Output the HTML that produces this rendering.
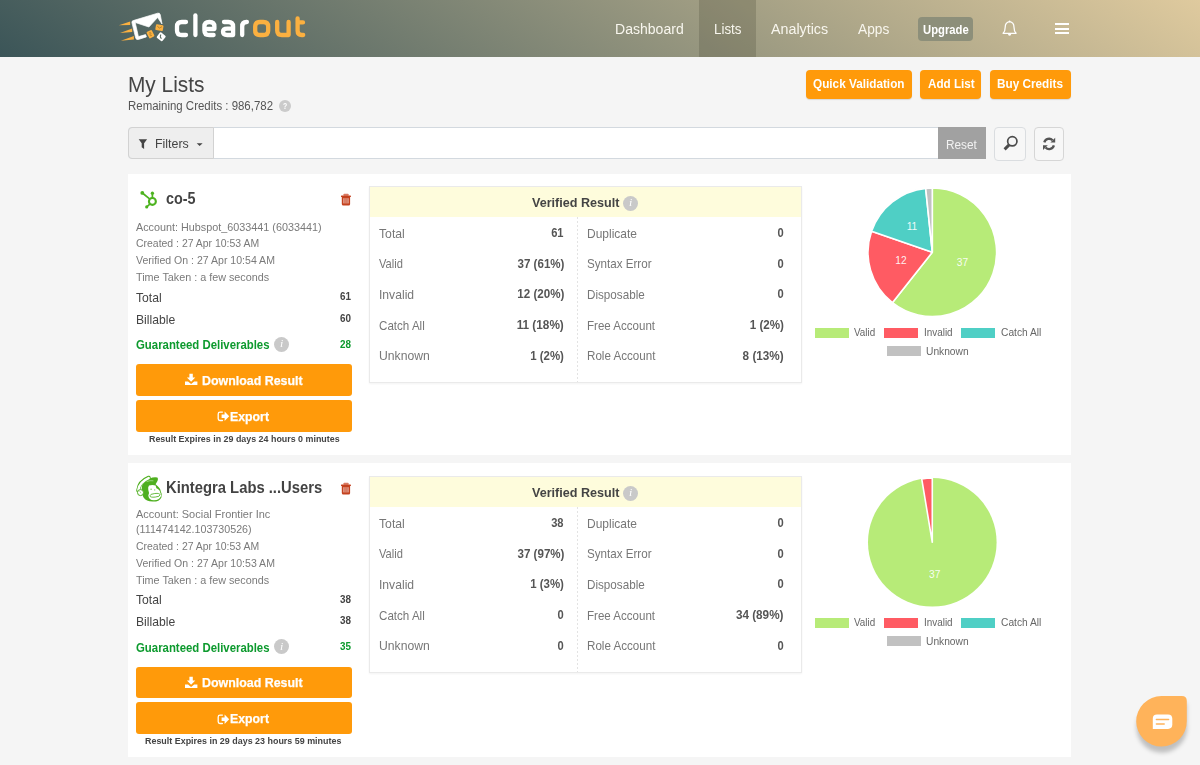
<!DOCTYPE html>
<html><head><meta charset="utf-8"><title>My Lists</title>
<style>
html,body{margin:0;padding:0;}
body{width:1200px;height:765px;overflow:hidden;background:#f5f5f5;position:relative;font-family:"Liberation Sans",sans-serif;}
.t{position:absolute;white-space:nowrap;line-height:1;}
.b{position:absolute;box-sizing:border-box;}
</style></head><body>
<div class="b" style="left:0.00px;top:0.00px;width:1200.00px;height:56.60px;background:linear-gradient(33deg,#3b5558 0%,#dfca9e 100%);"></div>
<div class="b" style="left:699.30px;top:0.00px;width:57.00px;height:56.60px;background:rgba(60,60,40,.22);"></div>
<svg class="b" style="left:112px;top:6px" width="200" height="44" viewBox="112 6 200 44">
<g fill="#fbb040">
<polygon points="118.9,25.2 130.2,21.4 130.2,25"/>
<polygon points="120,32.9 132.2,28.6 132.2,32"/>
<polygon points="120.9,40.7 133.9,36.1 133.9,39.5"/>
</g>
<path d="M133.2,20.6 L157.6,13.2 Q159.8,12.6 160.3,14.8 L162,24 L157.6,17.5 L148.9,27 L135.2,22.5 L138.4,36.6 L145.6,34.6 L146.4,36.9 L138.3,39.5 Q136.2,40 135.7,38 L131.9,22.6 Q131.5,21.1 133.2,20.6 Z" fill="#fff" stroke="#fff" stroke-width=".7" stroke-linejoin="round"/>
<g transform="rotate(-27 150.5 34.2)"><rect x="147.6" y="30.6" width="5.8" height="7.2" rx="1" fill="#fbb040"/><path d="M149.6,32.6h1.6v1.5h-1.4v1.6h1.6" stroke="#b8862c" stroke-width=".8" fill="none"/></g>
<g transform="rotate(10 159.4 27.6)"><rect x="155.6" y="24.6" width="7.6" height="6" rx="1" fill="#fbb040"/><path d="M157,26.2l2.4,2 2.4,-2" stroke="#b8862c" stroke-width=".9" fill="none"/></g>
<g transform="rotate(38 161.2 36.8)"><rect x="157.6" y="33.4" width="7.2" height="6.8" rx="1.1" fill="#fff"/><path d="M159.6,35.2q0.2,2.6 3,3" stroke="#5b6b60" stroke-width="1" fill="none"/></g>
<g fill="none" stroke-width="4.3" stroke-linecap="round" stroke-linejoin="round">
<g stroke="#fff">
<path d="M186,22 H181.8 Q177,22 177,26.6 V30.4 Q177,35 181.8,35 H186"/>
<path d="M195.4,15.4 V35"/>
<path d="M204.5,29 H214.4 V26.6 Q214.4,22 209.6,22 H209.2 Q204.4,22 204.4,26.6 V30.4 Q204.4,35 209.2,35 H213.6"/>
<path d="M224,22 H228.3 Q233.1,22 233.1,26.6 V35 H227.2 Q223,35 223,31.8 Q223,28.6 227.2,28.6 H233"/>
<path d="M242.2,35 V26.6 Q242.2,22 246.4,22 H246.9"/>
</g>
<g stroke="#fbb040">
<path d="M260,22 H263.4 Q268.2,22 268.2,26.6 V30.4 Q268.2,35 263.4,35 H260 Q255.2,35 255.2,30.4 V26.6 Q255.2,22 260,22 Z"/>
<path d="M277.2,22 V30.4 Q277.2,35 282,35 H288.6 V22"/>
<path d="M297.6,18.4 V30.8 Q297.6,35 301.8,35 H303.2 M297.6,22.4 H303"/>
</g></g>
</svg>
<div class="t" style="left:614.50px;transform-origin:0 0;top:21px;font-size:15.2px;font-weight:400;color:#f8f6ee;transform:scaleX(0.9252);">Dashboard</div>
<div class="t" style="left:713.80px;transform-origin:0 0;top:21px;font-size:15.2px;font-weight:400;color:#f8f6ee;transform:scaleX(0.8799);">Lists</div>
<div class="t" style="left:770.80px;transform-origin:0 0;top:21px;font-size:15.2px;font-weight:400;color:#f8f6ee;transform:scaleX(0.9404);">Analytics</div>
<div class="t" style="left:857.50px;transform-origin:0 0;top:21px;font-size:15.2px;font-weight:400;color:#f8f6ee;transform:scaleX(0.9034);">Apps</div>
<div class="b" style="left:918.00px;top:17.00px;width:55.00px;height:24.30px;background:#8d8f7a;border-radius:4px;"></div>
<div class="t" style="left:922.60px;transform-origin:0 0;top:23px;font-size:13.2px;font-weight:700;color:#fff;transform:scaleX(0.8535);">Upgrade</div>
<svg class="b" style="left:1000px;top:18px" width="20" height="20" viewBox="1000 18 20 20">
<path d="M1003.1,33.3 H1016.1 Q1014,31.2 1014,27.2 Q1014,22.4 1009.6,21.7 Q1005.2,22.4 1005.2,27.2 Q1005.2,31.2 1003.1,33.3 Z" fill="none" stroke="#fff" stroke-width="1.25" stroke-linejoin="round"/>
<circle cx="1009.6" cy="21.3" r=".9" fill="#fff"/>
<path d="M1008,34.1 a1.6,1.7 0 0 0 3.2,0 z" fill="#fff"/></svg>
<div class="b" style="left:1055.30px;top:23.00px;width:13.40px;height:2.10px;background:#fff;"></div>
<div class="b" style="left:1055.30px;top:27.50px;width:13.40px;height:2.10px;background:#fff;"></div>
<div class="b" style="left:1055.30px;top:32.00px;width:13.40px;height:2.10px;background:#fff;"></div>
<div class="t" style="left:128.00px;transform-origin:0 0;top:74px;font-size:22.2px;font-weight:400;color:#454545;transform:scaleX(0.9397);">My Lists</div>
<div class="t" style="left:127.80px;transform-origin:0 0;top:100px;font-size:12.0px;font-weight:400;color:#555;transform:scaleX(0.9534);">Remaining Credits : 986,782</div>
<div class="b" style="left:279.20px;top:99.70px;width:12.10px;height:12.10px;background:#cbcbcb;border-radius:50%;"></div>
<div class="t" style="left:283.20px;transform-origin:0 0;top:102px;font-size:9px;font-weight:700;color:#fff;transform:scaleX(0.7640);">?</div>
<div class="b" style="left:805.80px;top:70.00px;width:106.00px;height:29.30px;background:#ff9a0a;border-radius:4px;box-shadow:0 1px 1px rgba(0,0,0,.12);"></div>
<div class="t" style="left:813.00px;transform-origin:0 0;top:78px;font-size:12.5px;font-weight:700;color:#fff;transform:scaleX(0.9409);">Quick Validation</div>
<div class="b" style="left:920.30px;top:70.00px;width:61.20px;height:29.30px;background:#ff9a0a;border-radius:4px;box-shadow:0 1px 1px rgba(0,0,0,.12);"></div>
<div class="t" style="left:927.80px;transform-origin:0 0;top:78px;font-size:12.5px;font-weight:700;color:#fff;transform:scaleX(0.9341);">Add List</div>
<div class="b" style="left:990.00px;top:70.00px;width:81.00px;height:29.30px;background:#ff9a0a;border-radius:4px;box-shadow:0 1px 1px rgba(0,0,0,.12);"></div>
<div class="t" style="left:997.30px;transform-origin:0 0;top:78px;font-size:12.5px;font-weight:700;color:#fff;transform:scaleX(0.9408);">Buy Credits</div>
<div class="b" style="left:127.50px;top:126.80px;width:858.50px;height:31.80px;background:#fff;border:1px solid #d3d9df;border-radius:4px;"></div>
<div class="b" style="left:127.50px;top:126.80px;width:86.50px;height:31.80px;background:#eee;border:1px solid #d2d2d2;border-radius:4px 0 0 4px;"></div>
<svg class="b" style="left:138px;top:138px" width="11" height="12" viewBox="138 138 11 12"><path d="M138.7,139.3 H147.1 L144.1,143.2 V148.9 L141.7,147.2 V143.2 Z" fill="#444"/></svg>
<div class="t" style="left:155.00px;transform-origin:0 0;top:137px;font-size:13.6px;font-weight:400;color:#444;transform:scaleX(0.9130);">Filters</div>
<svg class="b" style="left:196px;top:142px" width="8" height="5" viewBox="196 142 8 5"><path d="M196.7,143.2 H202.6 L199.65,146 Z" fill="#444"/></svg>
<div class="b" style="left:937.50px;top:126.80px;width:48.40px;height:32.00px;background:#a1a1a1;"></div>
<div class="t" style="left:946.20px;transform-origin:0 0;top:138px;font-size:13.6px;font-weight:400;color:#f2f2f2;transform:scaleX(0.8669);">Reset</div>
<div class="b" style="left:994.00px;top:126.50px;width:31.60px;height:34.00px;background:#f7f7f7;border:1px solid #dadde0;border-radius:4px;"></div>
<div class="b" style="left:1034.00px;top:126.50px;width:30.00px;height:34.00px;background:#f7f7f7;border:1px solid #d6d6d6;border-radius:4px;"></div>
<svg class="b" style="left:1002px;top:134px" width="18" height="18" viewBox="1002 134 18 18">
<circle cx="1012.3" cy="141.3" r="4.65" fill="none" stroke="#4c4c4c" stroke-width="1.7"/>
<path d="M1009.1,144.9 L1004.6,149.4" stroke="#4c4c4c" stroke-width="2.9" stroke-linecap="butt"/></svg>
<svg class="b" style="left:1041px;top:136px" width="16" height="16" viewBox="1041 136 16 16">
<g fill="none" stroke="#555" stroke-width="2.3">
<path d="M1044.3,142.4 A4.9,4.9 0 0 1 1052.6,140.3"/>
<path d="M1053.9,145.4 A4.9,4.9 0 0 1 1045.6,147.5"/></g>
<path d="M1055.2,137.8 V142.6 H1050.4 Z" fill="#555"/>
<path d="M1043,150 V145.2 H1047.8 Z" fill="#555"/></svg>
<div class="b" style="left:127.50px;top:173.50px;width:943.50px;height:281.00px;background:#fff;"></div>
<svg class="b" style="left:139px;top:189px" width="20" height="21" viewBox="139 189 20 21"><g fill="none" stroke="#4db31f" stroke-linecap="round"><circle cx="152.4" cy="201.4" r="3.45" stroke-width="2.1"/><path d="M142.4,193 L149.6,198.8 M152.4,197.6 V193.6 M149.8,204.2 L146.8,206.8" stroke-width="1.7"/></g><g fill="#4db31f"><circle cx="142.3" cy="192.9" r="1.9"/><circle cx="152.4" cy="193.2" r="1.65"/><circle cx="146.7" cy="206.9" r="1.55"/></g></svg>
<div class="t" style="left:165.80px;transform-origin:0 0;top:190px;font-size:16.4px;font-weight:700;color:#434343;transform:scaleX(0.8778);">co-5</div>
<svg class="b" style="left:340px;top:193.0px" width="12" height="13" viewBox="340 193.5 12 13"><path d="M344.2,194.2 H347.9 Q348.5,194.2 348.5,194.8 V196.3 H343.6 V194.8 Q343.6,194.2 344.2,194.2 Z" fill="#d97a63"/><rect x="341" y="196.1" width="9.9" height="1.5" rx=".4" fill="#c4421f"/><path d="M341.8,197.3 H350.1 V204.4 Q350.1,205.9 348.6,205.9 H343.3 Q341.8,205.9 341.8,204.4 Z" fill="#c4421f"/><rect x="343.1" y="198.7" width="5.7" height="5.2" fill="#e29c8a"/><path d="M345.0,198.7 V203.9 M346.95,198.7 V203.9" stroke="#c95538" stroke-width=".8"/></svg>
<div class="t" style="left:136.00px;transform-origin:0 0;top:221px;font-size:11.6px;font-weight:400;color:#7a7a7a;transform:scaleX(0.9318);">Account: Hubspot_6033441 (6033441)</div>
<div class="t" style="left:136.00px;transform-origin:0 0;top:237px;font-size:11.6px;font-weight:400;color:#7a7a7a;transform:scaleX(0.9012);">Created : 27 Apr 10:53 AM</div>
<div class="t" style="left:136.00px;transform-origin:0 0;top:254px;font-size:11.6px;font-weight:400;color:#7a7a7a;transform:scaleX(0.9095);">Verified On : 27 Apr 10:54 AM</div>
<div class="t" style="left:136.00px;transform-origin:0 0;top:271px;font-size:11.6px;font-weight:400;color:#7a7a7a;transform:scaleX(0.9306);">Time Taken : a few seconds</div>
<div class="t" style="left:136.00px;transform-origin:0 0;top:291px;font-size:13.2px;font-weight:400;color:#444;transform:scaleX(0.9217);">Total</div>
<div class="t" style="right:849.20px;transform-origin:100% 0;top:291px;font-size:11.8px;font-weight:700;color:#444;transform:scaleX(0.8381);">61</div>
<div class="t" style="left:136.00px;transform-origin:0 0;top:313px;font-size:13.2px;font-weight:400;color:#444;transform:scaleX(0.9211);">Billable</div>
<div class="t" style="right:849.20px;transform-origin:100% 0;top:313px;font-size:11.8px;font-weight:700;color:#444;transform:scaleX(0.8381);">60</div>
<div class="t" style="left:136.00px;transform-origin:0 0;top:339px;font-size:12.9px;font-weight:700;color:#0d9a2e;transform:scaleX(0.8831);">Guaranteed Deliverables</div>
<div class="b" style="left:273.80px;top:336.70px;width:15.00px;height:15.00px;background:#c9c9c9;border-radius:50%;"></div>
<div class="t" style="left:280.10px;transform-origin:0 0;top:339px;font-size:10.5px;font-weight:400;color:#fff;transform:scaleX(1.1145);font-style:italic;font-family:'Liberation Serif',serif;">i</div>
<div class="t" style="right:849.20px;transform-origin:100% 0;top:339px;font-size:11.8px;font-weight:700;color:#0d9a2e;transform:scaleX(0.8381);">28</div>
<div class="b" style="left:136.00px;top:364.00px;width:215.90px;height:31.70px;background:#ff9a0a;border-radius:3px;"></div>
<svg class="b" style="left:184px;top:372px" width="15" height="15" viewBox="184 372 15 15"><path d="M189.4,373.8 H192.8 V377.6 H195.3 L191.1,381.8 L186.9,377.6 H189.4 Z M185,381.4 H188 L191.1,384 L194.2,381.4 H197.4 V384.9 H185 Z" fill="#fff"/></svg>
<div class="t" style="left:201.70px;transform-origin:0 0;top:374px;font-size:13.3px;font-weight:700;color:#fff;transform:scaleX(0.9325);-webkit-text-stroke:.25px #fff;">Download Result</div>
<div class="b" style="left:136.00px;top:399.90px;width:215.90px;height:31.70px;background:#ff9a0a;border-radius:3px;"></div>
<svg class="b" style="left:216px;top:409px" width="15" height="15" viewBox="216 409 15 15"><path d="M222.4,412.1 H220 Q218.2,412.1 218.2,413.9 V418.7 Q218.2,420.5 220,420.5 H222.4" fill="none" stroke="#fff" stroke-width="1.3" stroke-linecap="round"/><path d="M221.6,414.6 H224.6 V411.6 L229.2,416.3 L224.6,421 V418 H221.6 Z" fill="#fff"/></svg>
<div class="t" style="left:230.40px;transform-origin:0 0;top:410px;font-size:13.3px;font-weight:700;color:#fff;transform:scaleX(0.9259);-webkit-text-stroke:.25px #fff;">Export</div>
<div class="t" style="left:148.50px;transform-origin:0 0;top:434px;font-size:9.6px;font-weight:700;color:#444;transform:scaleX(0.9260);">Result Expires in 29 days 24 hours 0 minutes</div>
<div class="b" style="left:369.40px;top:186.40px;width:432.20px;height:196.40px;background:#fff;border:1px solid #eaeaea;box-shadow:0 1px 2px rgba(0,0,0,.05);"></div>
<div class="b" style="left:370.40px;top:187.40px;width:430.20px;height:29.60px;background:#fefcdc;"></div>
<div class="b" style="left:577.20px;top:217.00px;width:1.00px;height:164.80px;background:repeating-linear-gradient(to bottom,#e3e3e3 0,#e3e3e3 2px,transparent 2px,transparent 4px);"></div>
<div class="t" style="left:532.20px;transform-origin:0 0;top:196px;font-size:13.2px;font-weight:700;color:#444;transform:scaleX(0.9542);">Verified Result</div>
<div class="b" style="left:623.00px;top:195.60px;width:15.00px;height:15.00px;background:#c9c9c9;border-radius:50%;"></div>
<div class="t" style="left:629.30px;transform-origin:0 0;top:198px;font-size:10.5px;font-weight:400;color:#fff;transform:scaleX(1.1145);font-style:italic;font-family:'Liberation Serif',serif;">i</div>
<div class="t" style="left:378.60px;transform-origin:0 0;top:228px;font-size:12.6px;font-weight:400;color:#777;transform:scaleX(0.9694);">Total</div>
<div class="t" style="right:636.00px;transform-origin:100% 0;top:227px;font-size:12.2px;font-weight:700;color:#555;transform:scaleX(0.9138);">61</div>
<div class="t" style="left:378.60px;transform-origin:0 0;top:258px;font-size:12.6px;font-weight:400;color:#777;transform:scaleX(0.8825);">Valid</div>
<div class="t" style="right:636.00px;transform-origin:100% 0;top:258px;font-size:12.2px;font-weight:700;color:#555;transform:scaleX(0.9494);">37 (61%)</div>
<div class="t" style="left:378.60px;transform-origin:0 0;top:289px;font-size:12.6px;font-weight:400;color:#777;transform:scaleX(0.9637);">Invalid</div>
<div class="t" style="right:636.00px;transform-origin:100% 0;top:288px;font-size:12.2px;font-weight:700;color:#555;transform:scaleX(0.9535);">12 (20%)</div>
<div class="t" style="left:378.60px;transform-origin:0 0;top:320px;font-size:12.6px;font-weight:400;color:#777;transform:scaleX(0.9211);">Catch All</div>
<div class="t" style="right:636.00px;transform-origin:100% 0;top:319px;font-size:12.2px;font-weight:700;color:#555;transform:scaleX(0.9666);">11 (18%)</div>
<div class="t" style="left:378.60px;transform-origin:0 0;top:350px;font-size:12.6px;font-weight:400;color:#777;transform:scaleX(0.9671);">Unknown</div>
<div class="t" style="right:636.00px;transform-origin:100% 0;top:350px;font-size:12.2px;font-weight:700;color:#555;transform:scaleX(0.9406);">1 (2%)</div>
<div class="t" style="left:587.00px;transform-origin:0 0;top:228px;font-size:12.6px;font-weight:400;color:#777;transform:scaleX(0.9519);">Duplicate</div>
<div class="t" style="right:416.40px;transform-origin:100% 0;top:227px;font-size:12.2px;font-weight:700;color:#555;transform:scaleX(0.9138);">0</div>
<div class="t" style="left:587.00px;transform-origin:0 0;top:258px;font-size:12.6px;font-weight:400;color:#777;transform:scaleX(0.9226);">Syntax Error</div>
<div class="t" style="right:416.40px;transform-origin:100% 0;top:258px;font-size:12.2px;font-weight:700;color:#555;transform:scaleX(0.9138);">0</div>
<div class="t" style="left:587.00px;transform-origin:0 0;top:289px;font-size:12.6px;font-weight:400;color:#777;transform:scaleX(0.9272);">Disposable</div>
<div class="t" style="right:416.40px;transform-origin:100% 0;top:288px;font-size:12.2px;font-weight:700;color:#555;transform:scaleX(0.9138);">0</div>
<div class="t" style="left:587.00px;transform-origin:0 0;top:320px;font-size:12.6px;font-weight:400;color:#777;transform:scaleX(0.9173);">Free Account</div>
<div class="t" style="right:416.40px;transform-origin:100% 0;top:319px;font-size:12.2px;font-weight:700;color:#555;transform:scaleX(0.9518);">1 (2%)</div>
<div class="t" style="left:587.00px;transform-origin:0 0;top:350px;font-size:12.6px;font-weight:400;color:#777;transform:scaleX(0.9226);">Role Account</div>
<div class="t" style="right:416.40px;transform-origin:100% 0;top:350px;font-size:12.2px;font-weight:700;color:#555;transform:scaleX(0.9621);">8 (13%)</div>
<svg class="b" style="left:864.0px;top:183.9px" width="136.6" height="136.6" viewBox="864.0 183.9 136.6 136.6"><path d="M932.3,252.2 L932.30,187.90 A64.3,64.3 0 1 1 892.39,302.62 Z" fill="#b7eb78" stroke="#fff" stroke-width="1.6" stroke-linejoin="round"/><path d="M932.3,252.2 L892.39,302.62 A64.3,64.3 0 0 1 871.57,231.07 Z" fill="#ff5b63" stroke="#fff" stroke-width="1.6" stroke-linejoin="round"/><path d="M932.3,252.2 L871.57,231.07 A64.3,64.3 0 0 1 925.69,188.24 Z" fill="#4fcfc5" stroke="#fff" stroke-width="1.6" stroke-linejoin="round"/><path d="M932.3,252.2 L925.69,188.24 A64.3,64.3 0 0 1 932.30,187.90 Z" fill="#c1c1c1" stroke="#fff" stroke-width="1.6" stroke-linejoin="round"/><text x="962.4" y="265.8" font-family="Liberation Sans, sans-serif" font-size="10.2" fill="#fff" fill-opacity=".92" text-anchor="middle">37</text><text x="901" y="264.2" font-family="Liberation Sans, sans-serif" font-size="10.2" fill="#fff" fill-opacity=".92" text-anchor="middle">12</text><text x="912" y="230.4" font-family="Liberation Sans, sans-serif" font-size="10.2" fill="#fff" fill-opacity=".92" text-anchor="middle">11</text></svg>
<div class="b" style="left:814.80px;top:327.50px;width:34.20px;height:10.10px;background:#b7eb78;"></div>
<div class="t" style="left:854.00px;transform-origin:0 0;top:327px;font-size:11px;font-weight:400;color:#666;transform:scaleX(0.8966);">Valid</div>
<div class="b" style="left:884.20px;top:327.50px;width:33.80px;height:10.10px;background:#ff5b63;"></div>
<div class="t" style="left:923.70px;transform-origin:0 0;top:327px;font-size:11px;font-weight:400;color:#666;transform:scaleX(0.8995);">Invalid</div>
<div class="b" style="left:961.20px;top:327.50px;width:33.80px;height:10.10px;background:#4fcfc5;"></div>
<div class="t" style="left:1000.70px;transform-origin:0 0;top:327px;font-size:11px;font-weight:400;color:#666;transform:scaleX(0.9284);">Catch All</div>
<div class="b" style="left:886.70px;top:346.40px;width:34.10px;height:10.10px;background:#c1c1c1;"></div>
<div class="t" style="left:926.20px;transform-origin:0 0;top:346px;font-size:11px;font-weight:400;color:#666;transform:scaleX(0.9289);">Unknown</div>
<div class="b" style="left:127.50px;top:463.30px;width:943.50px;height:293.50px;background:#fff;"></div>
<svg class="b" style="left:132px;top:472px" width="34" height="34" viewBox="132 472 34 34">
<path d="M141.9,486 Q144.5,480.5 149.6,478.6 Q153.6,476.6 157.4,477.4 Q158.8,479.4 156.6,482.4 L155.6,484.2 Q160.6,488 160.8,491.6 Q162.6,494.4 161.4,497.4 Q159.4,501.8 152.6,501.6 Q146.2,501.6 143.4,497.2 Q141.3,493.6 141.7,489.6 Z" fill="#4eaf1f"/>
<path d="M138.2,490.4 Q139.2,481.6 148.8,477.7" fill="none" stroke="#4eaf1f" stroke-width="4.0" stroke-linecap="round"/>
<path d="M138.4,490 Q139.5,482 148.6,478.1" fill="none" stroke="#fff" stroke-width="2.6" stroke-linecap="round"/>
<path d="M146.6,481.6 Q150,480.2 153.4,480.8" fill="none" stroke="#b9e3a3" stroke-width=".7"/>
<circle cx="140.5" cy="492.6" r="3.0" fill="#fff" stroke="#4eaf1f" stroke-width="1.0"/>
<path d="M139.4,491.4 q1.4,.2 1.4,1.8" fill="none" stroke="#8fd06f" stroke-width=".7"/>
<path d="M149,485.6 Q152.6,484.2 155.6,485.6 L156.4,488.2 Q159.8,489.4 160.2,492.4 Q161.6,494.4 160.8,496.6 Q159.4,500.4 153.8,500.3 Q148.8,499.8 148.3,495.4 Q149.6,492.4 148.3,490 Q147.7,487.2 149,485.6 Z" fill="#fff"/>
<ellipse cx="155" cy="495.3" rx="5.1" ry="1.8" fill="#fff" stroke="#5fb835" stroke-width=".9" transform="rotate(-6 155 495.3)"/>
<circle cx="151.1" cy="489.2" r=".8" fill="#84cc63"/><circle cx="154.7" cy="489.9" r=".7" fill="#84cc63"/>
</svg>
<div class="t" style="left:165.80px;transform-origin:0 0;top:479px;font-size:17.0px;font-weight:700;color:#434343;transform:scaleX(0.8702);">Kintegra Labs ...Users</div>
<svg class="b" style="left:340px;top:482.4px" width="12" height="13" viewBox="340 193.5 12 13"><path d="M344.2,194.2 H347.9 Q348.5,194.2 348.5,194.8 V196.3 H343.6 V194.8 Q343.6,194.2 344.2,194.2 Z" fill="#d97a63"/><rect x="341" y="196.1" width="9.9" height="1.5" rx=".4" fill="#c4421f"/><path d="M341.8,197.3 H350.1 V204.4 Q350.1,205.9 348.6,205.9 H343.3 Q341.8,205.9 341.8,204.4 Z" fill="#c4421f"/><rect x="343.1" y="198.7" width="5.7" height="5.2" fill="#e29c8a"/><path d="M345.0,198.7 V203.9 M346.95,198.7 V203.9" stroke="#c95538" stroke-width=".8"/></svg>
<div class="t" style="left:136.00px;transform-origin:0 0;top:508px;font-size:11.6px;font-weight:400;color:#7a7a7a;transform:scaleX(0.9475);">Account: Social Frontier Inc</div>
<div class="t" style="left:136.00px;transform-origin:0 0;top:523px;font-size:11.6px;font-weight:400;color:#7a7a7a;transform:scaleX(0.9230);">(111474142.103730526)</div>
<div class="t" style="left:136.00px;transform-origin:0 0;top:540px;font-size:11.6px;font-weight:400;color:#7a7a7a;transform:scaleX(0.9012);">Created : 27 Apr 10:53 AM</div>
<div class="t" style="left:136.00px;transform-origin:0 0;top:557px;font-size:11.6px;font-weight:400;color:#7a7a7a;transform:scaleX(0.9095);">Verified On : 27 Apr 10:53 AM</div>
<div class="t" style="left:136.00px;transform-origin:0 0;top:574px;font-size:11.6px;font-weight:400;color:#7a7a7a;transform:scaleX(0.9306);">Time Taken : a few seconds</div>
<div class="t" style="left:136.00px;transform-origin:0 0;top:593px;font-size:13.2px;font-weight:400;color:#444;transform:scaleX(0.9217);">Total</div>
<div class="t" style="right:849.20px;transform-origin:100% 0;top:594px;font-size:11.8px;font-weight:700;color:#444;transform:scaleX(0.8381);">38</div>
<div class="t" style="left:136.00px;transform-origin:0 0;top:615px;font-size:13.2px;font-weight:400;color:#444;transform:scaleX(0.9211);">Billable</div>
<div class="t" style="right:849.20px;transform-origin:100% 0;top:615px;font-size:11.8px;font-weight:700;color:#444;transform:scaleX(0.8381);">38</div>
<div class="t" style="left:136.00px;transform-origin:0 0;top:642px;font-size:12.9px;font-weight:700;color:#0d9a2e;transform:scaleX(0.8831);">Guaranteed Deliverables</div>
<div class="b" style="left:273.80px;top:639.20px;width:15.00px;height:15.00px;background:#c9c9c9;border-radius:50%;"></div>
<div class="t" style="left:280.10px;transform-origin:0 0;top:642px;font-size:10.5px;font-weight:400;color:#fff;transform:scaleX(1.1145);font-style:italic;font-family:'Liberation Serif',serif;">i</div>
<div class="t" style="right:849.20px;transform-origin:100% 0;top:641px;font-size:11.8px;font-weight:700;color:#0d9a2e;transform:scaleX(0.8381);">35</div>
<div class="b" style="left:136.00px;top:666.50px;width:215.90px;height:31.70px;background:#ff9a0a;border-radius:3px;"></div>
<svg class="b" style="left:184px;top:674.5px" width="15" height="15" viewBox="184 372 15 15"><path d="M189.4,373.8 H192.8 V377.6 H195.3 L191.1,381.8 L186.9,377.6 H189.4 Z M185,381.4 H188 L191.1,384 L194.2,381.4 H197.4 V384.9 H185 Z" fill="#fff"/></svg>
<div class="t" style="left:201.70px;transform-origin:0 0;top:676px;font-size:13.3px;font-weight:700;color:#fff;transform:scaleX(0.9325);-webkit-text-stroke:.25px #fff;">Download Result</div>
<div class="b" style="left:136.00px;top:702.40px;width:215.90px;height:31.70px;background:#ff9a0a;border-radius:3px;"></div>
<svg class="b" style="left:216px;top:711.5px" width="15" height="15" viewBox="216 409 15 15"><path d="M222.4,412.1 H220 Q218.2,412.1 218.2,413.9 V418.7 Q218.2,420.5 220,420.5 H222.4" fill="none" stroke="#fff" stroke-width="1.3" stroke-linecap="round"/><path d="M221.6,414.6 H224.6 V411.6 L229.2,416.3 L224.6,421 V418 H221.6 Z" fill="#fff"/></svg>
<div class="t" style="left:230.40px;transform-origin:0 0;top:712px;font-size:13.3px;font-weight:700;color:#fff;transform:scaleX(0.9259);-webkit-text-stroke:.25px #fff;">Export</div>
<div class="t" style="left:145.40px;transform-origin:0 0;top:736px;font-size:9.6px;font-weight:700;color:#444;transform:scaleX(0.9300);">Result Expires in 29 days 23 hours 59 minutes</div>
<div class="b" style="left:369.40px;top:476.40px;width:432.20px;height:196.40px;background:#fff;border:1px solid #eaeaea;box-shadow:0 1px 2px rgba(0,0,0,.05);"></div>
<div class="b" style="left:370.40px;top:477.40px;width:430.20px;height:29.60px;background:#fefcdc;"></div>
<div class="b" style="left:577.20px;top:507.00px;width:1.00px;height:164.80px;background:repeating-linear-gradient(to bottom,#e3e3e3 0,#e3e3e3 2px,transparent 2px,transparent 4px);"></div>
<div class="t" style="left:532.20px;transform-origin:0 0;top:486px;font-size:13.2px;font-weight:700;color:#444;transform:scaleX(0.9542);">Verified Result</div>
<div class="b" style="left:623.00px;top:485.60px;width:15.00px;height:15.00px;background:#c9c9c9;border-radius:50%;"></div>
<div class="t" style="left:629.30px;transform-origin:0 0;top:488px;font-size:10.5px;font-weight:400;color:#fff;transform:scaleX(1.1145);font-style:italic;font-family:'Liberation Serif',serif;">i</div>
<div class="t" style="left:378.60px;transform-origin:0 0;top:518px;font-size:12.6px;font-weight:400;color:#777;transform:scaleX(0.9694);">Total</div>
<div class="t" style="right:636.00px;transform-origin:100% 0;top:517px;font-size:12.2px;font-weight:700;color:#555;transform:scaleX(0.9138);">38</div>
<div class="t" style="left:378.60px;transform-origin:0 0;top:548px;font-size:12.6px;font-weight:400;color:#777;transform:scaleX(0.8825);">Valid</div>
<div class="t" style="right:636.00px;transform-origin:100% 0;top:548px;font-size:12.2px;font-weight:700;color:#555;transform:scaleX(0.9494);">37 (97%)</div>
<div class="t" style="left:378.60px;transform-origin:0 0;top:579px;font-size:12.6px;font-weight:400;color:#777;transform:scaleX(0.9637);">Invalid</div>
<div class="t" style="right:636.00px;transform-origin:100% 0;top:578px;font-size:12.2px;font-weight:700;color:#555;transform:scaleX(0.9406);">1 (3%)</div>
<div class="t" style="left:378.60px;transform-origin:0 0;top:610px;font-size:12.6px;font-weight:400;color:#777;transform:scaleX(0.9211);">Catch All</div>
<div class="t" style="right:636.00px;transform-origin:100% 0;top:609px;font-size:12.2px;font-weight:700;color:#555;transform:scaleX(0.9138);">0</div>
<div class="t" style="left:378.60px;transform-origin:0 0;top:640px;font-size:12.6px;font-weight:400;color:#777;transform:scaleX(0.9671);">Unknown</div>
<div class="t" style="right:636.00px;transform-origin:100% 0;top:640px;font-size:12.2px;font-weight:700;color:#555;transform:scaleX(0.9138);">0</div>
<div class="t" style="left:587.00px;transform-origin:0 0;top:518px;font-size:12.6px;font-weight:400;color:#777;transform:scaleX(0.9519);">Duplicate</div>
<div class="t" style="right:416.40px;transform-origin:100% 0;top:517px;font-size:12.2px;font-weight:700;color:#555;transform:scaleX(0.9138);">0</div>
<div class="t" style="left:587.00px;transform-origin:0 0;top:548px;font-size:12.6px;font-weight:400;color:#777;transform:scaleX(0.9226);">Syntax Error</div>
<div class="t" style="right:416.40px;transform-origin:100% 0;top:548px;font-size:12.2px;font-weight:700;color:#555;transform:scaleX(0.9138);">0</div>
<div class="t" style="left:587.00px;transform-origin:0 0;top:579px;font-size:12.6px;font-weight:400;color:#777;transform:scaleX(0.9272);">Disposable</div>
<div class="t" style="right:416.40px;transform-origin:100% 0;top:578px;font-size:12.2px;font-weight:700;color:#555;transform:scaleX(0.9138);">0</div>
<div class="t" style="left:587.00px;transform-origin:0 0;top:610px;font-size:12.6px;font-weight:400;color:#777;transform:scaleX(0.9173);">Free Account</div>
<div class="t" style="right:416.40px;transform-origin:100% 0;top:609px;font-size:12.2px;font-weight:700;color:#555;transform:scaleX(0.9616);">34 (89%)</div>
<div class="t" style="left:587.00px;transform-origin:0 0;top:640px;font-size:12.6px;font-weight:400;color:#777;transform:scaleX(0.9226);">Role Account</div>
<div class="t" style="right:416.40px;transform-origin:100% 0;top:640px;font-size:12.2px;font-weight:700;color:#555;transform:scaleX(0.9138);">0</div>
<div></div>
<svg class="b" style="left:864.1px;top:473.7px" width="136.6" height="136.6" viewBox="864.1 473.7 136.6 136.6"><circle cx="932.4" cy="542" r="64.3" fill="#b7eb78"/><path d="M932.4,542 L921.82,478.58 A64.3,64.3 0 0 1 932.4,477.7 Z" fill="#ff5b63" stroke="#fff" stroke-width="1.6" stroke-linejoin="round"/><text x="934.8" y="578.2" font-family="Liberation Sans, sans-serif" font-size="10.2" fill="#fff" fill-opacity=".92" text-anchor="middle">37</text></svg>
<div class="b" style="left:814.80px;top:617.50px;width:34.20px;height:10.10px;background:#b7eb78;"></div>
<div class="t" style="left:854.00px;transform-origin:0 0;top:617px;font-size:11px;font-weight:400;color:#666;transform:scaleX(0.8966);">Valid</div>
<div class="b" style="left:884.20px;top:617.50px;width:33.80px;height:10.10px;background:#ff5b63;"></div>
<div class="t" style="left:923.70px;transform-origin:0 0;top:617px;font-size:11px;font-weight:400;color:#666;transform:scaleX(0.8995);">Invalid</div>
<div class="b" style="left:961.20px;top:617.50px;width:33.80px;height:10.10px;background:#4fcfc5;"></div>
<div class="t" style="left:1000.70px;transform-origin:0 0;top:617px;font-size:11px;font-weight:400;color:#666;transform:scaleX(0.9284);">Catch All</div>
<div class="b" style="left:886.70px;top:636.30px;width:34.10px;height:10.10px;background:#c1c1c1;"></div>
<div class="t" style="left:926.20px;transform-origin:0 0;top:636px;font-size:11px;font-weight:400;color:#666;transform:scaleX(0.9289);">Unknown</div>
<svg class="b" style="left:1126px;top:686px" width="74" height="79" viewBox="1126 686 74 79">
<defs><filter id="sh" x="-30%" y="-30%" width="160%" height="170%"><feGaussianBlur stdDeviation="1.9"/></filter></defs>
<path d="M1161.5,699.5 H1181 Q1186.8,699.5 1186.8,702 V721 A25.3,25.3 0 1 1 1161.5,699.5 Z" transform="translate(0,2.6)" fill="rgba(0,0,0,.22)" filter="url(#sh)"/>
<path d="M1161.5,696 H1181.8 Q1186.8,696 1186.8,701 V721 A25.3,25.3 0 1 1 1161.5,696 Z" fill="#ffb35a"/>
<path d="M1157,714.5 H1168 Q1172.3,714.5 1172.3,718.8 V724.6 Q1172.3,728.9 1168,728.9 H1152.8 V718.7 Q1152.8,714.5 1157,714.5 Z" fill="#fff"/>
<path d="M1156.4,719.4 H1168.6 M1156.4,723.9 H1164.2" stroke="#ffb35a" stroke-width="1.5" stroke-linecap="round"/>
</svg>
</body></html>
